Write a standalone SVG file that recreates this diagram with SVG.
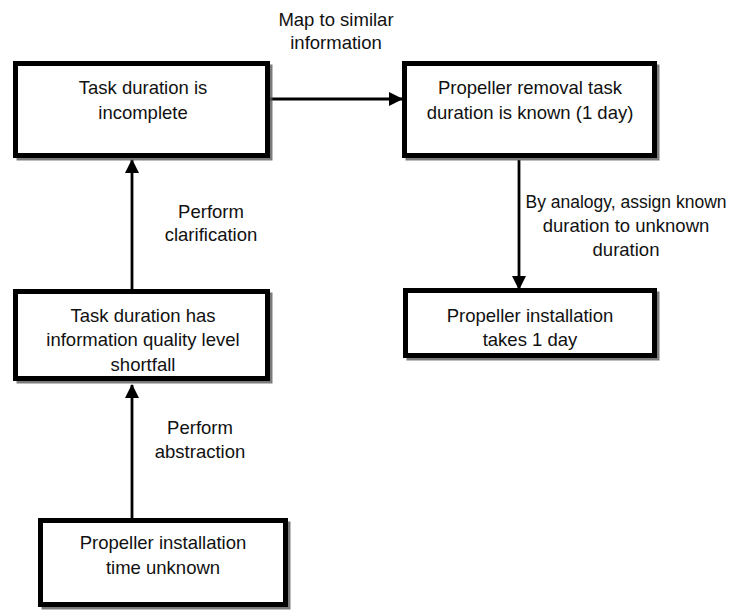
<svg xmlns="http://www.w3.org/2000/svg" width="732" height="612" viewBox="0 0 732 612">
  <style>
    .box { fill: #ffffff; stroke: #000000; stroke-width: 5; }
    .shadow { fill: none; stroke: #5a5a5a; stroke-width: 4; opacity: 0.8; }
    .lbl { font-family: "Liberation Sans", Arial, sans-serif; font-size: 18.5px; fill: #111111; text-anchor: middle; }
    .lbl.small { font-size: 17.5px; }
    .edge { fill: none; stroke: #000000; stroke-width: 2.8; }
  </style>
  <defs>
    <marker id="arrow" markerUnits="userSpaceOnUse" markerWidth="14" markerHeight="14" viewBox="0 0 14 14" refX="13" refY="7" orient="auto">
      <path d="M0,0 L14,7 L0,14 Z" fill="#000000"/>
    </marker>
  </defs>
  <rect width="732" height="612" fill="#ffffff"/>

  <!-- connectors -->
  <g id="connectors">
    <line class="edge" x1="270" y1="99" x2="402" y2="99" marker-end="url(#arrow)"/>
    <line class="edge" x1="519" y1="160" x2="519" y2="289" marker-end="url(#arrow)"/>
    <line class="edge" x1="132" y1="289" x2="132" y2="160" marker-end="url(#arrow)"/>
    <line class="edge" x1="132" y1="518" x2="132" y2="385" marker-end="url(#arrow)"/>
    <text class="lbl" x="336" y="26">Map to similar</text>
    <text class="lbl" x="336" y="49">information</text>
    <text class="lbl" x="211" y="218">Perform</text>
    <text class="lbl" x="211" y="241">clarification</text>
    <text class="lbl small" x="626" y="208">By analogy, assign known</text>
    <text class="lbl" x="626" y="232">duration to unknown</text>
    <text class="lbl" x="626" y="256">duration</text>
    <text class="lbl" x="200" y="434">Perform</text>
    <text class="lbl" x="200" y="458">abstraction</text>
  </g>

  <g id="task-incomplete">
    <rect class="shadow" x="18.5" y="66.5" width="252" height="92"/>
    <rect class="box" x="15.5" y="63.5" width="252" height="92"/>
    <text class="lbl" x="143" y="94">Task duration is</text>
    <text class="lbl" x="143" y="119">incomplete</text>
  </g>

  <g id="removal-known">
    <rect class="shadow" x="407.5" y="66.5" width="250" height="92"/>
    <rect class="box" x="404.5" y="63.5" width="250" height="92"/>
    <text class="lbl" x="530" y="94">Propeller removal task</text>
    <text class="lbl" x="530" y="119">duration is known (1 day)</text>
  </g>

  <g id="quality-shortfall">
    <rect class="shadow" x="18.5" y="294.5" width="252" height="87"/>
    <rect class="box" x="15.5" y="291.5" width="252" height="87"/>
    <text class="lbl" x="143" y="322">Task duration has</text>
    <text class="lbl" x="143" y="346">information quality level</text>
    <text class="lbl" x="143" y="371">shortfall</text>
  </g>

  <g id="installation-1day">
    <rect class="shadow" x="408.5" y="293.5" width="249" height="65"/>
    <rect class="box" x="405.5" y="290.5" width="249" height="65"/>
    <text class="lbl" x="530" y="322">Propeller installation</text>
    <text class="lbl" x="530" y="346">takes 1 day</text>
  </g>

  <g id="installation-unknown">
    <rect class="shadow" x="43.5" y="523.5" width="245" height="84"/>
    <rect class="box" x="40.5" y="520.5" width="245" height="84"/>
    <text class="lbl" x="163" y="549">Propeller installation</text>
    <text class="lbl" x="163" y="574">time unknown</text>
  </g>
</svg>
